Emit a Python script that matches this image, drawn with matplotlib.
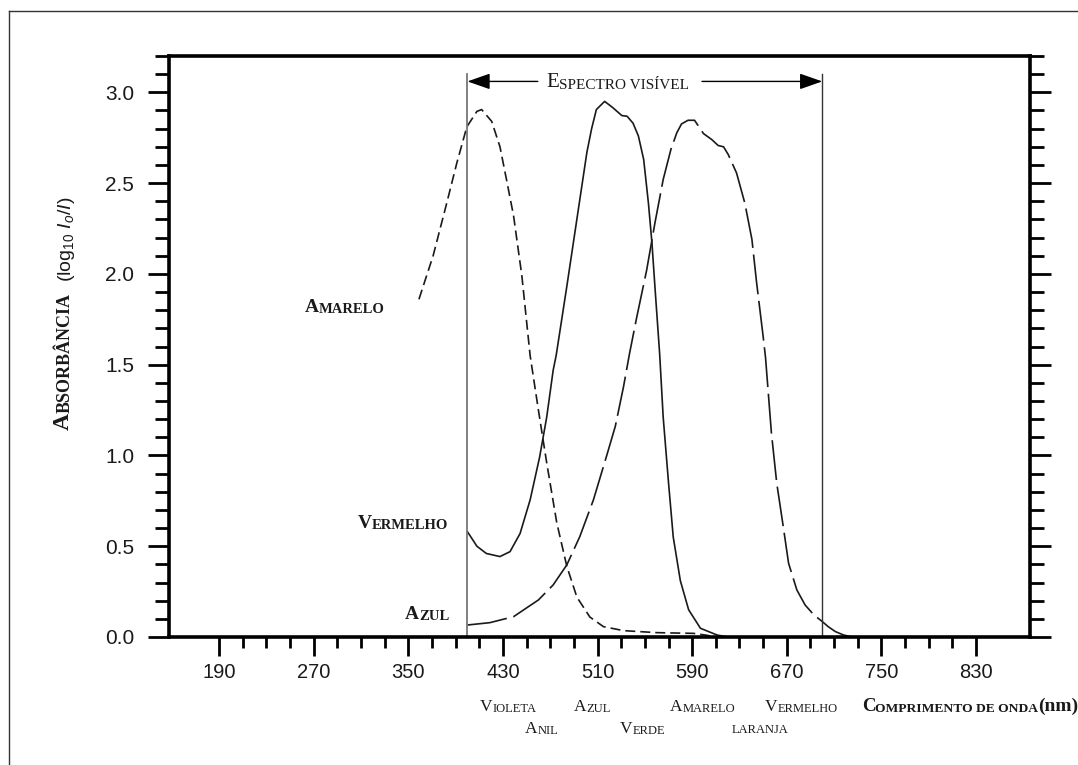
import matplotlib
matplotlib.use("Agg")
import matplotlib.pyplot as plt
import numpy as np
from matplotlib.lines import Line2D

plt.rcParams['font.family'] = ['Liberation Sans', 'DejaVu Sans']
plt.rcParams['mathtext.fontset'] = 'custom'
plt.rcParams['mathtext.rm'] = 'Liberation Sans'
plt.rcParams['mathtext.it'] = 'Liberation Sans:italic'

# dados (comprimento de onda em nm, absorbância)
amarelo_nm = [359, 371, 382.5, 391, 399.5, 408, 412, 420.5, 427.5, 433, 439, 446, 453, 460,
              467, 475.5, 484, 492.5, 503.5, 515, 532, 560, 591, 602, 610]
amarelo_abs = [1.86, 2.10, 2.39, 2.61, 2.81, 2.895, 2.905, 2.84, 2.70, 2.52, 2.32, 1.99, 1.55, 1.25,
               0.96, 0.63, 0.39, 0.22, 0.11, 0.057, 0.035, 0.024, 0.02, 0.01, 0.0]

vermelho_nm = [400, 408, 416, 427.5, 436, 444.5, 453, 461, 467, 472.5, 475, 484, 492.5, 501, 505,
               509, 516, 523, 530.5, 535, 540, 544.5, 549, 553, 556, 558.5, 562.5, 565.5, 570,
               574, 580, 587, 597, 611, 620]
vermelho_abs = [0.58, 0.50, 0.46, 0.443, 0.47, 0.57, 0.755, 0.99, 1.21, 1.47, 1.55, 1.93, 2.30, 2.67,
                2.80, 2.905, 2.95, 2.915, 2.872, 2.868, 2.83, 2.76, 2.63, 2.39, 2.17, 1.93, 1.56,
                1.21, 0.85, 0.55, 0.31, 0.15, 0.048, 0.011, 0.0]

azul_nm = [400, 419, 439, 460, 472.5, 484, 495, 506.5, 517.5, 525, 532, 537, 543, 551.5, 558.5,
           565.5, 572, 577, 581, 586.5, 592, 599.5, 606.5, 612, 616.5, 620.5, 627.5, 634.5,
           640.5, 644.5, 650, 652, 657, 661.5, 667, 671.5, 678.5, 685.5, 693, 700, 705, 711,
           718, 725]
azul_abs = [0.066, 0.079, 0.112, 0.204, 0.287, 0.397, 0.553, 0.755, 0.994, 1.16, 1.38, 1.56, 1.757,
            2.02, 2.28, 2.52, 2.685, 2.777, 2.826, 2.846, 2.846, 2.773, 2.74, 2.707, 2.70, 2.657,
            2.556, 2.39, 2.19, 1.95, 1.655, 1.54, 1.123, 0.847, 0.608, 0.406, 0.259, 0.176,
            0.121, 0.085, 0.057, 0.03, 0.011, 0.0]

x_major = [190, 270, 350, 430, 510, 590, 670, 750, 830]
y_major = [0.0, 0.5, 1.0, 1.5, 2.0, 2.5, 3.0]

# nomes das cores por baixo do eixo: (primeira letra, resto, nm, linha)
cores = [("V", "IOLETA", 410.6, 0), ("A", "NIL", 448.7, 1), ("A", "ZUL", 490.1, 0),
         ("V", "ERDE", 529, 1), ("A", "MARELO", 571.2, 0), ("", "LARANJA", 623.7, 1),
         ("V", "ERMELHO", 651.5, 0)]

SERIF = ['Liberation Serif', 'DejaVu Serif']
INK = '#1a1a1a'

fig = plt.figure(figsize=(10.78, 7.65), dpi=100)
ax = fig.add_axes([169 / 1078, 128 / 765, 861 / 1078, 581 / 765])


def versalete(x, y, first, rest, big, small, weight='normal', transform=None, rotation=0):
    # imita versaletes: letra inicial maior e o resto em maiúsculas pequenas
    if transform is None:
        transform = ax.transData
    if rotation == 0:
        t1 = ax.text(x, y, first, fontsize=big, family=SERIF, weight=weight, color=INK,
                     ha='left', va='baseline', transform=transform, clip_on=False)
        t2 = ax.annotate(rest, xy=(1, 0), xycoords=t1, ha='left', va='bottom',
                         fontsize=small, family=SERIF, weight=weight, color=INK,
                         annotation_clip=False)
    else:
        t1 = ax.text(x, y, first, fontsize=big, family=SERIF, weight=weight, color=INK,
                     ha='right', va='bottom', rotation=90, transform=transform, clip_on=False)
        t2 = ax.annotate(rest, xy=(1, 1), xycoords=t1, ha='right', va='bottom', rotation=90,
                         fontsize=small, family=SERIF, weight=weight, color=INK,
                         annotation_clip=False)
    return t2


# curvas
ax.plot(amarelo_nm, amarelo_abs, color=INK, lw=1.2, linestyle=(0, (6, 3)))
ax.plot(vermelho_nm, vermelho_abs, color=INK, lw=1.2)
ax.plot(azul_nm, azul_abs, color=INK, lw=1.2, linestyle=(0, (24, 4)))

# limites do espectro visível
ax.plot([400, 400], [0, 3.1], color='#777777', lw=1.3)
ax.plot([700, 700], [0, 3.1], color='#333333', lw=1.0)
arrow = dict(arrowstyle='-|>,head_length=1.0,head_width=0.35', color='black', lw=1,
             shrinkA=0, shrinkB=0, mutation_scale=14)
ax.annotate('', xy=(400, 3.06), xytext=(459.5, 3.06), arrowprops=arrow)
ax.annotate('', xy=(700, 3.06), xytext=(598.3, 3.06), arrowprops=arrow)
versalete(466.4, 3.027, "E", "SPECTRO VISÍVEL", 15, 11)

# rótulos das curvas
versalete(262.7, 1.79, "A", "MARELO", 14, 10.5, weight='bold')
versalete(307.5, 0.60, "V", "ERMELHO", 14, 10.5, weight='bold')
versalete(347.2, 0.098, "A", "ZUL", 14, 10.5, weight='bold')

for first, rest, nm, row in cores:
    yy = -0.408 if row == 0 else -0.529
    if first:
        versalete(nm, yy, first, rest, 12.5, 9)
    else:
        ax.text(nm, yy, rest, fontsize=9, family=SERIF, color=INK, ha='left',
                va='baseline', clip_on=False)

# título do eixo x
t = versalete(733.5, -0.408, "C", "OMPRIMENTO DE ONDA", 13.5, 9.7, weight='bold')
ax.annotate("(nm)", xy=(1, 0), xycoords=t, ha='left', va='bottom', fontsize=14,
            family=SERIF, weight='bold', color=INK, annotation_clip=False)

# título do eixo y
t = versalete(74 / 1078, 1 - 430 / 765, "A", "BSORBÂNCIA", 17, 13, weight='bold',
              transform=fig.transFigure, rotation=90)
ax.annotate(r"$(\mathrm{log}_{10}\ I_o/I)$", xy=(1, 1), xycoords=t, xytext=(2, 8),
            textcoords='offset points', ha='right', va='bottom', rotation=90,
            fontsize=14, color=INK, annotation_clip=False)

# eixos
ax.set_xlim(147.7, 875.6)
ax.set_ylim(0, 3.2)
ax.set_xticks(x_major)
ax.set_xticks(np.arange(190, 831, 20), minor=True)
ax.set_yticks(y_major)
ax.set_yticks(np.arange(0, 3.21, 0.1), minor=True)
ax.set_yticklabels([f"{v:.1f}" for v in y_major])
ax.set_xticklabels([str(v) for v in x_major])

for s in ax.spines.values():
    s.set_linewidth(2.6)
    s.set_color('black')

ax.tick_params(axis='y', which='both', left=True, right=True, direction='out',
               width=2, colors='black', labelcolor=INK, labelsize=15, pad=10)
ax.tick_params(axis='y', which='major', length=15)
ax.tick_params(axis='y', which='minor', length=10)
ax.tick_params(axis='x', which='both', bottom=True, top=False, direction='out',
               width=2, colors='black', labelcolor=INK, labelsize=14.5, pad=5)
ax.tick_params(axis='x', which='major', length=13.5)
ax.tick_params(axis='x', which='minor', length=8)

# moldura fina da figura
fig.add_artist(Line2D([9 / 1078, 9 / 1078], [0, 1 - 11 / 765], transform=fig.transFigure,
                      color='#333333', lw=1))
fig.add_artist(Line2D([9 / 1078, 1], [1 - 11 / 765, 1 - 11 / 765], transform=fig.transFigure,
                      color='#333333', lw=1))

fig.savefig('out.png', dpi=100)
